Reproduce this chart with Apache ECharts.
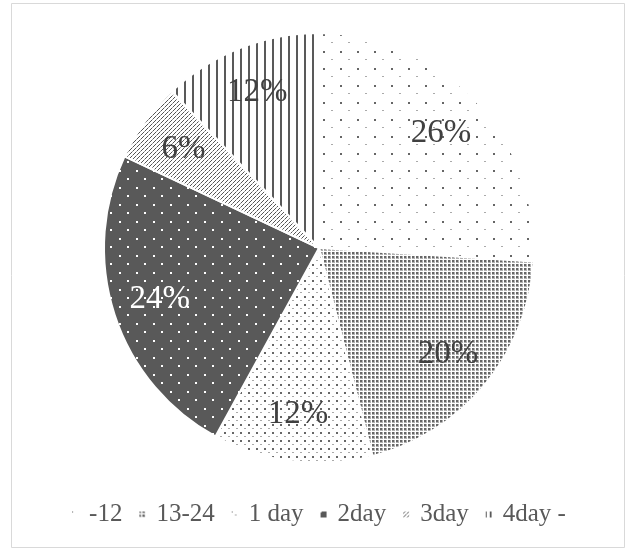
<!DOCTYPE html>
<html>
<head>
<meta charset="utf-8">
<script src="https://cdn.jsdelivr.net/npm/echarts@6/dist/echarts.min.js"></script>
<style>
  html, body { margin: 0; padding: 0; background: #fff; }
  #chart { width: 636px; height: 552px; }
</style>
</head>
<body>
<div id="chart"></div>
<script>
// Share of cases by elapsed time
const categories = ['-12', '13-24', '1 day', '2day', '3day', '4day -'];
const shares = [26, 20, 12, 24, 6, 12];
const labelColors = ['#404040', '#404040', '#404040', '#ffffff', '#404040', '#404040'];

// Monochrome fill patterns, one per category
function tile(w, h, bg, draw) {
  const c = document.createElement('canvas');
  c.width = w; c.height = h;
  const g = c.getContext('2d');
  if (bg) { g.fillStyle = bg; g.fillRect(0, 0, w, h); }
  draw(g);
  return { image: c, repeat: 'repeat' };
}
const ink = '#595959';
const patterns = [
  // sparse staggered dots
  tile(17, 17, '#fff', g => {
    g.fillStyle = '#666'; g.fillRect(0, 0, 2, 2);
    g.fillStyle = '#aaa'; g.fillRect(8, 8, 2, 1);
  }),
  // dense dot grid
  tile(4, 4, '#fff', g => {
    g.fillStyle = '#b0b0b0'; g.fillRect(0, 0, 3, 3);
    g.fillStyle = '#666'; g.fillRect(0, 0, 2, 2);
  }),
  // small dots
  tile(8, 8, '#fff', g => {
    g.fillStyle = '#666'; g.fillRect(0, 0, 2, 2);
    g.fillStyle = '#aaa'; g.fillRect(4, 4, 2, 1);
  }),
  // dark fill with white dots
  tile(17, 17, ink, g => {
    g.fillStyle = '#fff'; g.fillRect(0, 0, 2, 2); g.fillRect(8, 8, 2, 2);
  }),
  // upward diagonal dashes
  tile(4, 4, '#fff', g => {
    g.fillStyle = '#555';
    g.fillRect(3, 0, 1, 1); g.fillRect(2, 1, 1, 1); g.fillRect(1, 2, 1, 1);
    g.fillStyle = '#999'; g.fillRect(0, 3, 1, 1);
  }),
  // vertical lines
  tile(5, 1, '#fff', g => {
    g.fillStyle = ink; g.fillRect(0, 0, 2, 1);
  })
];
// the vertical-line slice uses a wider pitch than its legend swatch
const sliceFills = patterns.slice();
sliceFills[5] = tile(8, 1, '#fff', g => { g.fillStyle = ink; g.fillRect(0, 0, 2, 1); });

const pieData = categories.map((name, i) => ({
  name, value: shares[i],
  itemStyle: { color: sliceFills[i] }
}));
const labelData = categories.map((name, i) => ({
  name, value: shares[i],
  label: { color: labelColors[i] }
}));

const chart = echarts.init(document.getElementById('chart'), null, { renderer: 'canvas' });
const center = [319, 248];
const R = 215;
chart.setOption({
  animation: false,
  backgroundColor: '#fff',
  graphic: [{
    type: 'rect',
    shape: { x: 11.5, y: 3.5, width: 613, height: 544 },
    style: { fill: 'none', stroke: '#d9d9d9', lineWidth: 1 },
    silent: true
  }],
  legend: {
    data: categories.map((name, i) => ({ name, itemStyle: { color: patterns[i] } })),
    bottom: 20,
    left: 'center',
    itemWidth: 8,
    itemHeight: 8,
    itemGap: 15,
    icon: 'rect',
    textStyle: { fontFamily: 'Liberation Serif', fontSize: 25, color: '#595959', padding: [0, 0, 0, 5] }
  },
  series: [{
    type: 'pie',
    center: center,
    radius: [0, R],
    startAngle: 90,
    clockwise: true,
    data: pieData,
    label: { show: false },
    labelLine: { show: false },
    itemStyle: { borderColor: '#fff', borderWidth: 2 },
    emphasis: { disabled: true }
  }, {
    type: 'pie',
    center: center,
    radius: [R * 0.53, R],
    startAngle: 90,
    clockwise: true,
    silent: true,
    data: labelData,
    itemStyle: { color: 'rgba(0,0,0,0)' },
    label: {
      show: true,
      position: 'inside',
      formatter: '{d}%',
      fontFamily: 'Liberation Serif',
      fontSize: 33
    },
    labelLine: { show: false },
    emphasis: { disabled: true }
  }]
});
</script>
</body>
</html>
